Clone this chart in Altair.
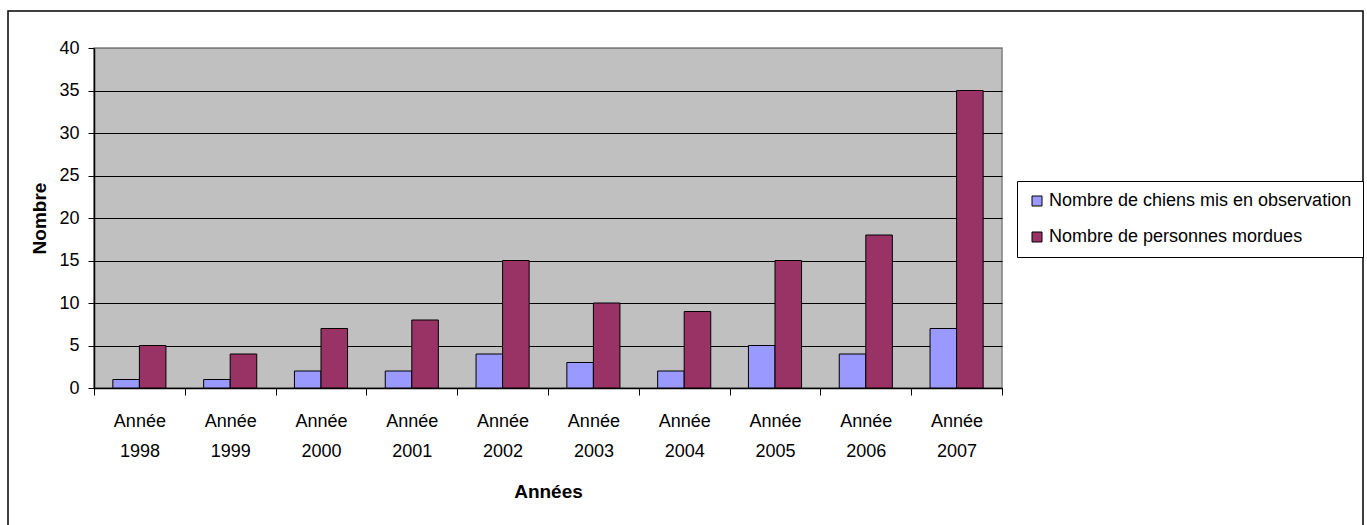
import altair as alt
import pandas as pd

years = ["1998", "1999", "2000", "2001", "2002", "2003", "2004", "2005", "2006", "2007"]
chiens = [1, 1, 2, 2, 4, 3, 2, 5, 4, 7]
personnes = [5, 4, 7, 8, 15, 10, 9, 15, 18, 35]
series = ["Nombre de chiens mis en observation", "Nombre de personnes mordues"]
colors = ["#9999FF", "#993366"]
y_ticks = [0, 5, 10, 15, 20, 25, 30, 35, 40]

cats = ["Année " + y for y in years]
rows = []
for c, a, b in zip(cats, chiens, personnes):
    rows.append({"cat": c, "serie": series[0], "val": a})
    rows.append({"cat": c, "serie": series[1], "val": b})
df = pd.DataFrame(rows)

FONT = "Liberation Sans, Arial"
BOLD = "Liberation Sans, Arial"

bars = alt.Chart(df).mark_bar(stroke="black", strokeWidth=1).encode(
    x=alt.X("cat:N", sort=cats,
            scale=alt.Scale(paddingInner=0, paddingOuter=0),
            axis=alt.Axis(title="Années", labelAngle=0, tickBand="extent",
                          labelExpr="split(datum.label, ' ')",
                          labelLineHeight=30, labelPadding=17, tickSize=7,
                          titlePadding=22)),
    xOffset=alt.XOffset("serie:N", sort=series,
                        scale=alt.Scale(paddingInner=0, paddingOuter=0.71)),
    y=alt.Y("val:Q", scale=alt.Scale(domain=[0, 40], nice=False),
            axis=alt.Axis(title="Nombre", values=y_ticks, tickSize=6,
                          labelPadding=9, titlePadding=9,
                          gridColor=alt.condition("datum.value == 40",
                                                  alt.value("#808080"),
                                                  alt.value("black")))),
    color=alt.Color("serie:N", sort=series,
                    scale=alt.Scale(domain=series, range=colors),
                    legend=alt.Legend(title=None, orient="none",
                                      legendX=923, legendY=133)),
)

border = alt.Chart(pd.DataFrame({"a": [0]})).mark_rect(
    fill=None, stroke="black", strokeWidth=1.5
).encode(
    x=alt.value(-86), x2=alt.value(1269),
    y=alt.value(-37), y2=alt.value(500),
)

chart = alt.layer(border, bars).properties(
    width=908, height=340,
    autosize=alt.AutoSizeParams(type="none"),
    padding={"left": 94, "top": 48, "right": 365, "bottom": 137},
    background="white",
).configure_view(
    fill="#C0C0C0", stroke="#808080", strokeWidth=1.5
).configure_axis(
    labelFont=FONT, labelFontSize=18, labelColor="black",
    titleFont=BOLD, titleFontSize=19, titleFontWeight="bold", titleColor="black",
    domainColor="black", domainWidth=1.5, tickColor="black", tickWidth=1,
    gridWidth=1,
).configure_axisX(
    grid=False,
).configure_legend(
    labelFont=FONT, labelFontSize=18, labelColor="black", labelLimit=500,
    symbolType="square", symbolSize=100, symbolStrokeColor="black",
    symbolStrokeWidth=1, strokeColor="black", fillColor="white",
    padding=11, rowPadding=18, labelOffset=3, cornerRadius=0,
)

chart.save("out.html", embed_options={"renderer": "svg", "actions": False})
